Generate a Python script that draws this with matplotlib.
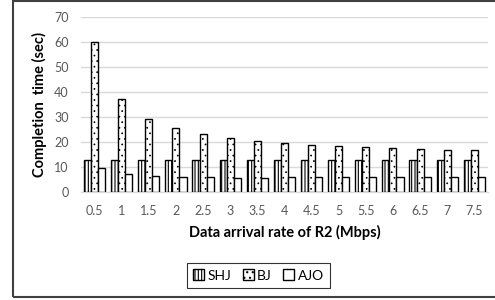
import matplotlib
matplotlib.use("Agg")
import matplotlib.pyplot as plt
import numpy as np
from matplotlib.patches import Rectangle

plt.rcParams['font.family'] = ['Lato', 'DejaVu Sans']
plt.rcParams['hatch.linewidth'] = 0.8

categories = ["0.5", "1", "1.5", "2", "2.5", "3", "3.5", "4", "4.5", "5", "5.5", "6", "6.5", "7", "7.5"]
shj = [13, 13, 13, 13, 13, 13, 13, 13, 13, 13, 13, 13, 13, 13, 13]
bj = [60.2, 37.2, 29.5, 25.7, 23.3, 21.7, 20.7, 19.6, 19.0, 18.5, 18.0, 17.6, 17.3, 17.0, 16.8]
ajo = [9.6, 7.5, 6.7, 6.3, 6.2, 5.9, 5.9, 6.0, 6.0, 6.0, 6.0, 6.0, 6.0, 6.0, 6.0]
series_names = ["SHJ", "BJ", "AJO"]
yticks = [0, 10, 20, 30, 40, 50, 60, 70]

fig = plt.figure(figsize=(4.95, 3.0), dpi=100)
ax = fig.add_axes([0.1636, 0.359, 0.822, 0.583])

x = np.arange(len(categories))
w = 0.26
hatches = ['|||||', '...', '']
for i, (vals, h) in enumerate(zip([shj, bj, ajo], hatches)):
    bars = ax.bar(x + (i - 1) * w, vals, width=w, facecolor='white', edgecolor='black',
                  linewidth=1.0, hatch=h, label=series_names[i], zorder=3)
    if i == 1:
        for b in bars:
            if hasattr(b, 'set_hatch_linewidth'):
                b.set_hatch_linewidth(0.5)

ax.set_xlim(-0.5, len(categories) - 0.5)
ax.set_ylim(0, 70)
ax.set_yticks(yticks)
ax.set_xticks(x)
ax.set_xticklabels(categories)
ax.yaxis.grid(True, color='#d9d9d9', linewidth=1.0, zorder=0)
for s in ['top', 'right', 'left']:
    ax.spines[s].set_visible(False)
ax.spines['bottom'].set_color('#d9d9d9')
ax.tick_params(axis='both', length=0, labelsize=9, labelcolor='#595959')
ax.tick_params(axis='x', pad=9)
ax.tick_params(axis='y', pad=9)

ax.set_xlabel("Data arrival rate of R2 (Mbps)", fontsize=10.5, fontweight='bold', labelpad=6)
ax.set_ylabel("Completion  time (sec)", fontsize=10.5, fontweight='bold', labelpad=5)

leg = fig.legend(*ax.get_legend_handles_labels(), loc='center',
                 bbox_to_anchor=(258.5 / 495, 1 - 275.5 / 300), bbox_transform=fig.transFigure,
                 ncol=3, frameon=True, fontsize=10, handlelength=0.8, handleheight=0.8,
                 handletextpad=0.25, columnspacing=0.8, borderpad=0.45, fancybox=False,
                 edgecolor='black')
leg.get_frame().set_linewidth(0.8)

border = Rectangle((12.5 / 495, 3 / 300), 1.2, 296 / 300, transform=fig.transFigure,
                   fill=False, edgecolor='#404040', linewidth=1.5, clip_on=False)
fig.patches.append(border)

fig.savefig("out.png", dpi=100)
